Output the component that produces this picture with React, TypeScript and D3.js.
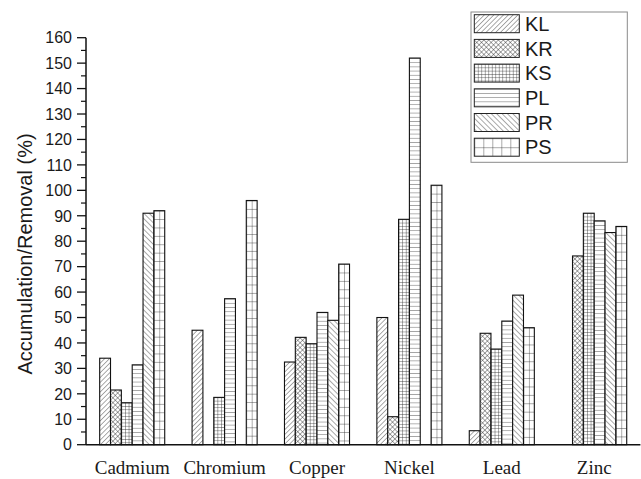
import React from "react";
import * as d3 from "d3";

// Metals on the x axis and the six treatments (one bar each per metal)
const categories = ["Cadmium", "Chromium", "Copper", "Nickel", "Lead", "Zinc"];
const seriesNames = ["KL", "KR", "KS", "PL", "PR", "PS"];

const KL = [34, 45, 32.5, 50, 5.5, 0];
const KR = [21.5, 0, 42.2, 11, 43.8, 74.2];
const KS = [16.5, 18.6, 39.7, 88.6, 37.6, 91];
const PL = [31.4, 57.4, 52, 152, 48.6, 88];
const PR = [91, 0, 48.9, 0, 58.8, 83.4];
const PS = [92, 96, 71, 102, 46, 85.8];

const seriesValues = [KL, KR, KS, PL, PR, PS];

const yTicks = d3.range(0, 161, 10);
const yMinorTicks = d3.range(5, 160, 10);

const W = 641;
const H = 479;
const X0 = 86;
const X1 = 640.4;
const Y0 = 444.7;
const Y1 = 37.7;

const LINE = "#2a2a2a";

function Patterns({ bw }: { bw: number }) {
  const sw = 0.8;
  return (
    <defs>
      <pattern id="p-KL" patternUnits="userSpaceOnUse" width={3.4} height={3.4} patternTransform="rotate(45)">
        <line x1={0} y1={0} x2={0} y2={3.4} stroke={LINE} strokeWidth={sw} />
      </pattern>
      <pattern id="p-KR" patternUnits="userSpaceOnUse" width={3.4} height={3.4} patternTransform="rotate(45)">
        <line x1={0} y1={0} x2={0} y2={3.4} stroke={LINE} strokeWidth={sw} />
        <line x1={0} y1={0} x2={3.4} y2={0} stroke={LINE} strokeWidth={sw} />
      </pattern>
      <pattern id="p-KS" patternUnits="userSpaceOnUse" width={bw / 3} height={3.3}>
        <line x1={0} y1={0} x2={0} y2={3.3} stroke={LINE} strokeWidth={sw} />
        <line x1={0} y1={0} x2={bw / 3} y2={0} stroke={LINE} strokeWidth={sw} />
      </pattern>
      <pattern id="p-PL" patternUnits="userSpaceOnUse" width={10} height={4.2}>
        <line x1={0} y1={0} x2={10} y2={0} stroke={LINE} strokeWidth={sw} />
      </pattern>
      <pattern id="p-PR" patternUnits="userSpaceOnUse" width={3.8} height={3.8} patternTransform="rotate(-45)">
        <line x1={0} y1={0} x2={0} y2={3.8} stroke={LINE} strokeWidth={sw} />
      </pattern>
      <pattern id="p-PS" patternUnits="userSpaceOnUse" width={bw / 2} height={8.4}>
        <line x1={0} y1={0} x2={0} y2={8.4} stroke={LINE} strokeWidth={sw} />
        <line x1={0} y1={0} x2={bw / 2} y2={0} stroke={LINE} strokeWidth={sw} />
      </pattern>
      <pattern id="p-PS-legend" patternUnits="userSpaceOnUse" width={9} height={9}>
        <line x1={0} y1={0} x2={0} y2={9} stroke={LINE} strokeWidth={sw} />
        <line x1={0} y1={0} x2={9} y2={0} stroke={LINE} strokeWidth={sw} />
      </pattern>
      <pattern id="p-KS-legend" patternUnits="userSpaceOnUse" width={3.5} height={3.3}>
        <line x1={0} y1={0} x2={0} y2={3.3} stroke={LINE} strokeWidth={sw} />
        <line x1={0} y1={0} x2={3.5} y2={0} stroke={LINE} strokeWidth={sw} />
      </pattern>
    </defs>
  );
}

export default function App() {
  const x = d3
    .scaleBand<string>()
    .domain(categories)
    .range([X0, X1])
    .paddingInner(0.296)
    .paddingOuter(0.148);
  const xs = d3.scaleBand<string>().domain(seriesNames).range([0, x.bandwidth()]);
  const y = d3.scaleLinear().domain([0, 160]).range([Y0, Y1]);
  const bw = xs.bandwidth();

  const legendX = 471;
  const legendY = 12;
  const legendRow = 24.7;

  return (
    <svg
      width={W}
      height={H}
      viewBox={`0 0 ${W} ${H}`}
      style={{ position: "absolute", left: 0, top: 0, background: "#fff" }}
    >
      <Patterns bw={bw} />
      <rect x={0} y={0} width={W} height={H} fill="#fff" />

      {/* bars */}
      {categories.map((cat, ci) => (
        <g key={cat}>
          {seriesNames.map((s, si) => {
            const v = seriesValues[si][ci];
            if (v <= 0) return null;
            const bx = (x(cat) as number) + (xs(s) as number);
            const top = y(v);
            return (
              <g key={s} transform={`translate(${bx},${top})`}>
                <rect x={0} y={0} width={bw} height={Y0 - top} fill="#fff" />
                <rect
                  x={0}
                  y={0}
                  width={bw}
                  height={Y0 - top}
                  fill={`url(#p-${s})`}
                  stroke="#111"
                  strokeWidth={1.1}
                />
              </g>
            );
          })}
        </g>
      ))}

      {/* y axis */}
      <line x1={X0} y1={Y0} x2={X0} y2={Y1} stroke="#111" strokeWidth={1.5} />
      {yTicks.map((t) => (
        <g key={t} transform={`translate(0,${y(t)})`}>
          <line x1={X0 - 9} x2={X0} y1={0} y2={0} stroke="#111" strokeWidth={1.3} />
          <text
            x={X0 - 14}
            y={0}
            dy="0.36em"
            textAnchor="end"
            fontFamily="Liberation Sans, Arial, sans-serif"
            fontSize={16}
            fill="#1a1a1a"
          >
            {t}
          </text>
        </g>
      ))}
      {yMinorTicks.map((t) => (
        <line key={t} x1={X0 - 5} x2={X0} y1={y(t)} y2={y(t)} stroke="#111" strokeWidth={1.2} />
      ))}
      <text
        transform={`translate(32,254) rotate(-90)`}
        textAnchor="middle"
        fontFamily="Liberation Sans, Arial, sans-serif"
        fontSize={20}
        fill="#1a1a1a"
      >
        Accumulation/Removal (%)
      </text>

      {/* x axis */}
      <line x1={X0} y1={Y0} x2={X1} y2={Y0} stroke="#111" strokeWidth={1.5} />
      {categories.map((cat) => (
        <text
          key={cat}
          x={(x(cat) as number) + x.bandwidth() / 2}
          y={474}
          textAnchor="middle"
          fontFamily="Liberation Serif, Times New Roman, serif"
          fontSize={19}
          fill="#1a1a1a"
        >
          {cat}
        </text>
      ))}

      {/* legend */}
      <rect
        x={legendX}
        y={legendY}
        width={156.3}
        height={150.3}
        fill="#fff"
        stroke="#8a8a8a"
        strokeWidth={1}
      />
      {seriesNames.map((s, i) => {
        const cy = 23.7 + i * legendRow;
        const fillId = s === "PS" ? "p-PS-legend" : s === "KS" ? "p-KS-legend" : `p-${s}`;
        return (
          <g key={s}>
            <g transform={`translate(474.3,${cy - 9})`}>
              <rect x={0} y={0} width={45} height={18} fill={`url(#${fillId})`} stroke="#222" strokeWidth={1} />
            </g>
            <text
              x={525}
              y={cy}
              dy="0.36em"
              fontFamily="Liberation Sans, Arial, sans-serif"
              fontSize={20}
              fill="#1a1a1a"
            >
              {s}
            </text>
          </g>
        );
      })}
    </svg>
  );
}
